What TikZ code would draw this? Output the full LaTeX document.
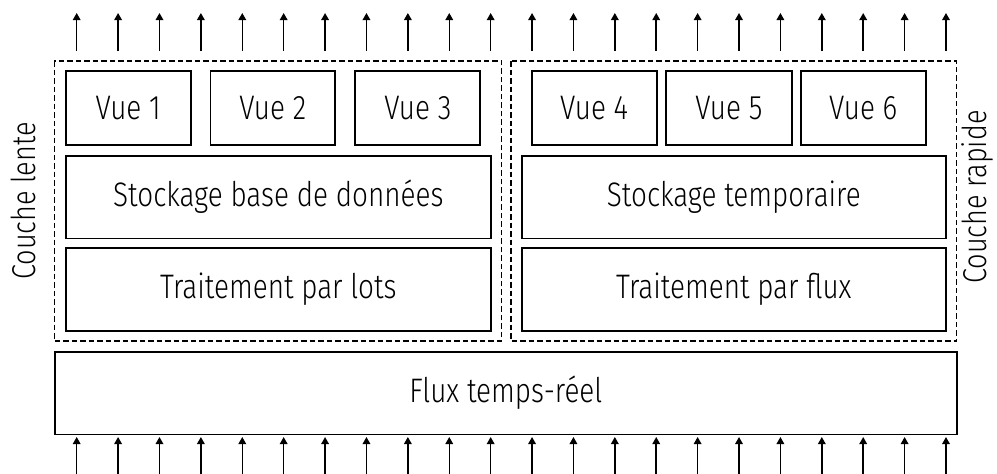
\documentclass[tikz,border=0pt]{standalone}
\usepackage{fontspec}
\setmainfont{Fira Sans Light}[FakeStretch=0.82]
\usetikzlibrary{arrows.meta}
\begin{document}
\begin{tikzpicture}[x=1pt,y=-1pt,
  box/.style={draw,line width=1.7pt,inner sep=0pt,font=\fontsize{34}{40}\selectfont},
  dbox/.style={draw,line width=1.1pt,dash pattern=on 5.5pt off 3pt},
  up/.style={line width=1.5pt,-{Triangle[length=7pt,width=7.5pt]}},
  side/.style={font=\fontsize{33}{40}\selectfont,rotate=90,inner sep=0pt}]
\useasboundingbox[fill=white] (0,0) rectangle (997,474);
% dashed groups
\draw[dbox] (54.3,61) rectangle (501.7,341);
\draw[dbox] (511,61) rectangle (956.7,341);
% views
\node[box,minimum width=125pt,minimum height=74pt] (v1) at (128.2,108) {Vue 1};
\node[box,minimum width=124.7pt,minimum height=74pt] (v2) at (272.7,108) {Vue 2};
\node[box,minimum width=125pt,minimum height=74pt] (v3) at (417.8,108) {Vue 3};
\node[box,minimum width=125pt,minimum height=74pt] (v4) at (594.2,108) {Vue 4};
\node[box,minimum width=125.7pt,minimum height=74pt] (v5) at (728.8,108) {Vue 5};
\node[box,minimum width=124.7pt,minimum height=74pt] (v6) at (863.3,108) {Vue 6};
% storage & processing
\node[box,minimum width=425.3pt,minimum height=82.7pt] (sdb) at (278.3,197) {Stockage base de données};
\node[box,minimum width=425.3pt,minimum height=83.3pt] (tl) at (278.3,289.6) {Traitement par lots};
\node[box,minimum width=424.3pt,minimum height=82.7pt] (st) at (733.8,197) {Stockage temporaire};
\node[box,minimum width=424.3pt,minimum height=83.3pt] (tf) at (733.8,289.6) {Traitement par flux};
% stream
\node[box,minimum width=901.7pt,minimum height=82.7pt] (flux) at (505.8,393) {Flux temps-réel};
% side labels
\node[side,anchor=base] (cl) at (35,201) {Couche lente};
\node[side,anchor=base] (cr) at (986,197) {Couche rapide};
% arrows
\foreach \i in {0,...,21}{
  \coordinate (ta\i) at ({76.7+\i*41.395},51);
  \coordinate (tb\i) at ({76.7+\i*41.395},13);
  \coordinate (ba\i) at ({76.7+\i*41.395},476);
  \coordinate (bb\i) at ({76.7+\i*41.395},437);
  \draw[up] (ta\i) -- (tb\i);
  \draw[up] (ba\i) -- (bb\i);
}
\end{tikzpicture}
\end{document}
